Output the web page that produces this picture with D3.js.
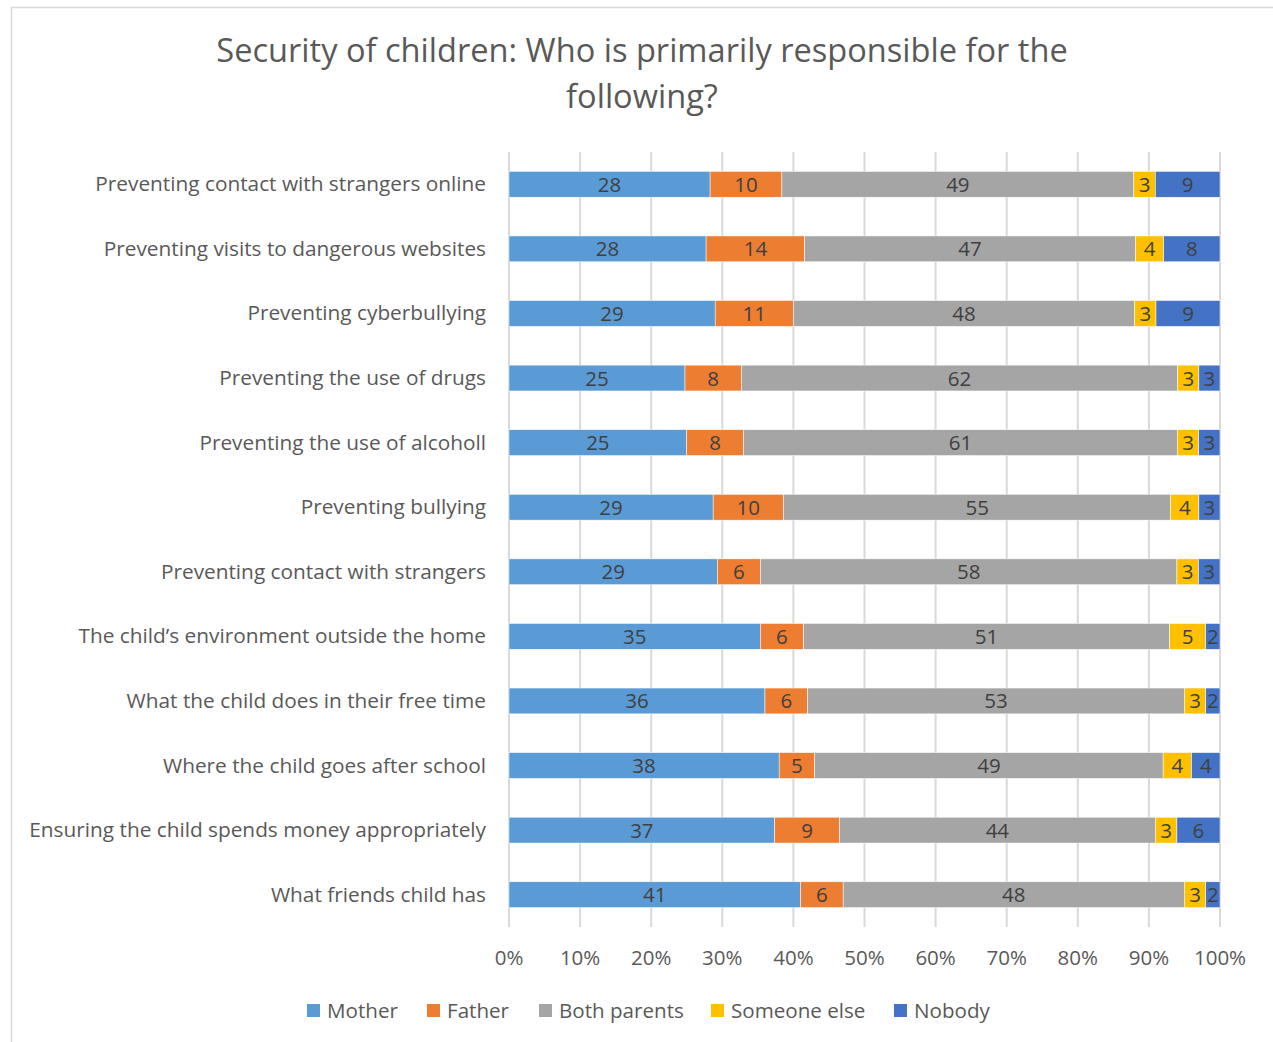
<!DOCTYPE html>
<html>
<head>
<meta charset="utf-8">
<script src="https://cdn.jsdelivr.net/npm/d3@7"></script>
<style>
  body { margin: 0; background: #fff; }
  text { font-family: "Open Sans", Lato, sans-serif; }
</style>
</head>
<body>
<div class="viewbox"></div>
<script>
// chart data (percent of respondents)
const categories = [
  "Preventing contact with strangers online",
  "Preventing visits to dangerous websites",
  "Preventing cyberbullying",
  "Preventing the use of drugs",
  "Preventing the use of alcoholl",
  "Preventing bullying",
  "Preventing contact with strangers",
  "The child\u2019s environment outside the home",
  "What the child does in their free time",
  "Where the child goes after school",
  "Ensuring the child spends money appropriately",
  "What friends child has"
];
const seriesNames = ["Mother", "Father", "Both parents", "Someone else", "Nobody"];
const mother      = [28, 28, 29, 25, 25, 29, 29, 35, 36, 38, 37, 41];
const father      = [10, 14, 11,  8,  8, 10,  6,  6,  6,  5,  9,  6];
const bothParents = [49, 47, 48, 62, 61, 55, 58, 51, 53, 49, 44, 48];
const someoneElse = [ 3,  4,  3,  3,  3,  4,  3,  5,  3,  4,  3,  3];
const nobody      = [ 9,  8,  9,  3,  3,  3,  3,  2,  2,  4,  6,  2];
const tickLabels = ["0%", "10%", "20%", "30%", "40%", "50%", "60%", "70%", "80%", "90%", "100%"];

const colors = ["#5B9BD5", "#ED7D31", "#A5A5A5", "#FFC000", "#4472C4"];

const svg_width = 1273;
const svg_height = 1042;

// build rows for d3.stack
const seriesValues = [mother, father, bothParents, someoneElse, nobody];
const rows = categories.map((c, i) => {
  let r = { cat: c };
  seriesNames.forEach((s, j) => { r[s] = seriesValues[j][i]; });
  return r;
});

// each bar is scaled to 100%
const stack = d3.stack()
  .keys(seriesNames)
  .offset(d3.stackOffsetExpand);
const stacked = stack(rows);

let svg = d3.select(".viewbox")
  .append("svg")
  .attr("width", svg_width)
  .attr("height", svg_height);

// outer chart frame
svg.append("rect")
  .attr("x", 11.5).attr("y", 7.5)
  .attr("width", 1300).attr("height", 1100)
  .attr("fill", "#fff")
  .attr("stroke", "#d9d9d9")
  .attr("stroke-width", 1.5);

let x = d3.scaleLinear().domain([0, 1]).range([509, 1220]);
let y = d3.scaleBand().domain(categories).range([152, 927])
  .paddingInner(0.6).paddingOuter(0.3);

// gridlines
svg.append("g")
  .selectAll("line")
  .data(d3.range(0, 1.0001, 0.1))
  .enter()
  .append("line")
  .attr("x1", d => x(d)).attr("x2", d => x(d))
  .attr("y1", 152).attr("y2", 927)
  .attr("stroke", "#d9d9d9")
  .attr("stroke-width", 2);

// x tick labels
svg.append("g")
  .selectAll("text")
  .data(tickLabels)
  .enter()
  .append("text")
  .attr("x", (d, i) => x(i / 10))
  .attr("y", 965)
  .attr("text-anchor", "middle")
  .attr("font-size", 20.5)
  .attr("fill", "#595959")
  .text(d => d);

// category labels
svg.append("g")
  .selectAll("text")
  .data(categories)
  .enter()
  .append("text")
  .attr("x", 486)
  .attr("y", d => y(d) + y.bandwidth() / 2 + 7)
  .attr("text-anchor", "end")
  .attr("font-size", 20.8)
  .attr("fill", "#595959")
  .text(d => d);

// bars
let layers = svg.append("g")
  .selectAll("g")
  .data(stacked)
  .enter()
  .append("g")
  .attr("fill", (d, i) => colors[i]);

layers.selectAll("rect")
  .data(d => d)
  .enter()
  .append("rect")
  .attr("x", d => x(d[0]))
  .attr("y", d => y(d.data.cat))
  .attr("width", d => x(d[1]) - x(d[0]))
  .attr("height", y.bandwidth())
  .attr("stroke", "#fff")
  .attr("stroke-width", 0.5);

// data labels
layers.selectAll("text")
  .data(d => d.map(p => ({ p: p, v: p.data[d.key] })))
  .enter()
  .append("text")
  .attr("x", d => (x(d.p[0]) + x(d.p[1])) / 2)
  .attr("y", d => y(d.p.data.cat) + y.bandwidth() / 2 + 7.5)
  .attr("text-anchor", "middle")
  .attr("font-size", 20.5)
  .attr("fill", "#404040")
  .text(d => d.v);

// title
let title = svg.append("text")
  .attr("x", 642)
  .attr("text-anchor", "middle")
  .attr("font-size", 32.6)
  .attr("fill", "#595959");
title.append("tspan").attr("x", 642).attr("y", 62)
  .text("Security of children: Who is primarily responsible for the");
title.append("tspan").attr("x", 642).attr("y", 108)
  .text("following?");

// legend
const legendX = [307, 427, 539, 711, 894];
let legend = svg.append("g")
  .selectAll("g")
  .data(seriesNames)
  .enter()
  .append("g")
  .attr("transform", (d, i) => `translate(${legendX[i]},1004)`);
legend.append("rect")
  .attr("width", 13).attr("height", 13)
  .attr("fill", (d, i) => colors[i]);
legend.append("text")
  .attr("x", 20).attr("y", 14)
  .attr("font-size", 20.6)
  .attr("fill", "#595959")
  .text(d => d);
</script>
</body>
</html>
